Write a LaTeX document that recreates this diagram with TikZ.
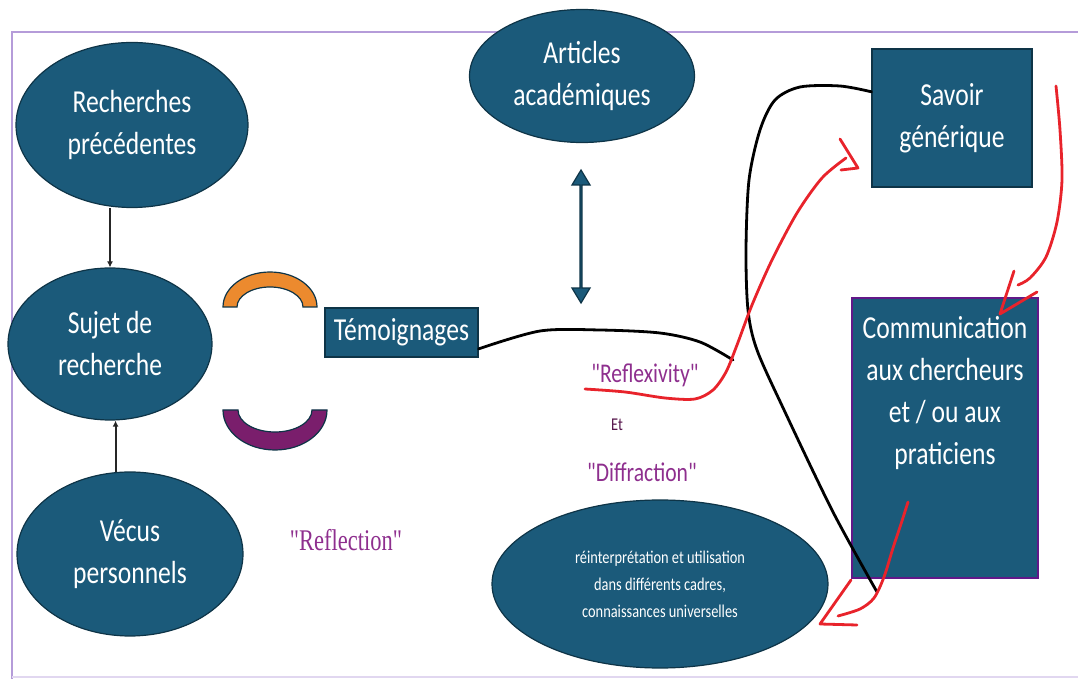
\documentclass[tikz,border=0pt]{standalone}
\usepackage{fontspec}
\setmainfont{Carlito}[FakeStretch=0.8]
\newfontfamily\motfont{Carlito}[FakeStretch=0.8]
\newfontfamily\reflfont{Liberation Serif}[FakeStretch=0.75]
\usetikzlibrary{positioning,shapes.geometric,shapes.arrows,arrows.meta}
\definecolor{bleu}{HTML}{1B5A7A}
\definecolor{bord}{HTML}{0E3447}
\definecolor{cadre}{HTML}{B59CD9}
\definecolor{mauve}{HTML}{8E2F8E}
\definecolor{rouge}{HTML}{E8232B}
\definecolor{arcorange}{HTML}{EC8A2E}
\definecolor{arcviolet}{HTML}{7A1E6C}
\begin{document}
\begin{tikzpicture}[x=0.5pt,y=-0.5pt,
    bulle/.style={ellipse,draw=bord,line width=0.6pt,fill=bleu,text=white,align=center,inner sep=0pt,font=\fontsize{16}{21}\selectfont},
    boite/.style={rectangle,draw=bord,line width=0.6pt,fill=bleu,text=white,align=center,inner sep=0pt,font=\fontsize{16}{21}\selectfont},
    lien/.style={line width=1pt,black!85,-{Latex[length=3pt,width=3pt]}},
    trait/.style={line width=1.4pt,black,line cap=round},
    main/.style={rouge,line width=1.4pt,line cap=round,line join=round},
    mot/.style={text=mauve,font=\motfont\fontsize{13.5}{15}\selectfont}]
    \useasboundingbox (0,0) rectangle (1078,679);
    \draw[cadre,line width=0.8pt] (1078,32) -- (12,32) -- (12,679);
    \draw[cadre!40,line width=0.8pt] (12,677) -- (1078,677);

    \node[bulle,minimum width=116pt,minimum height=82.5pt] (rech) at (132,125) {Recherches\\précédentes};
    \node[bulle,minimum width=102pt,minimum height=76pt] (suj) at (110,344) {Sujet de\\recherche};
    \node[bulle,minimum width=113pt,minimum height=82pt] (vec) at (130,554) {Vécus\\personnels};
    \node[bulle,minimum width=112.5pt,minimum height=66.5pt] (art) at (582,76) {Articles\\académiques};
    \node[bulle,minimum width=168pt,minimum height=84pt,font=\fontsize{9}{13.5}\selectfont] (reint) at (660,584) {réinterprétation et utilisation\\dans différents cadres,\\connaissances universelles};
    \node[boite,minimum width=76.5pt,minimum height=24.5pt] (tem) at (401.5,332.5) {Témoignages};
    \node[boite,minimum width=80pt,minimum height=69pt] (sav) at (952,118) {Savoir\\générique};
    \node[boite,draw=arcviolet!80!blue,line width=1pt,minimum width=93pt,minimum height=140pt] (com) at (945,438) {};
    \node[text=white,align=center,font=\fontsize{16}{21}\selectfont,below=6pt of com.north] (comtxt) {Communication\\aux chercheurs\\et / ou aux\\praticiens};
    \node[double arrow,draw=bord,line width=0.6pt,fill=bleu,rotate=90,minimum height=66.5pt,minimum width=9pt,inner sep=0pt,double arrow head extend=2.5pt,double arrow tip angle=62] (dbl) at (581,236.5) {};

    \draw[lien] (rech.south -| suj.north) -- (suj.north);
    \draw[lien] (vec.100) -- (suj.south -| vec.100);

    \draw[bord,line width=0.6pt,fill=arcorange] (223,307) arc[start angle=180,end angle=360,x radius=47,y radius=35] -- (303,307) arc[start angle=360,end angle=180,x radius=33,y radius=20] -- cycle;
    \draw[bord,line width=0.6pt,fill=arcviolet] (223,410) arc[start angle=180,end angle=0,x radius=52,y radius=40] -- (312,410) arc[start angle=0,end angle=180,x radius=37,y radius=22] -- cycle;

    \node[text=mauve,font=\reflfont\fontsize{15}{17}\selectfont] (refl) at (346,540) {"Reflection"};
    \node[mot] (rflx) at (645,375) {"Reflexivity"};
    \node[text=arcviolet!70!black,font=\motfont\fontsize{9}{10}\selectfont] (et) at (617,425) {Et};
    \node[mot] (diff) at (642,472) {"Diffraction"};

    \coordinate (pli) at (733,360);
    \coordinate (fin) at (877,592);
    \draw[trait] plot[smooth] coordinates {(tem.-12) (540,331) (600,330) (660,333) (700,342) (pli)};
    \draw[trait] plot[smooth] coordinates {(sav.162) (840,86) (800,87) (775,100) (760,130) (749,180) (746,250) (748,310) (757,350) (785,412) (833,512) (fin)};

    \draw[main] plot[smooth] coordinates {(585,389) (625,392) (665,398) (695,399) (713,390) (726,372) (737,345) (752,305) (772,260) (797,213) (822,178) (846,158)};
    \draw[main] (840,139) -- (858,168) -- (841,170);
    \draw[main] plot[smooth] coordinates {(1056,86) (1060,130) (1062,180) (1057,222) (1046,257) (1030,278) (1018,285)};
    \draw[main] (1014,271) -- (1000,314) -- (1037,292);
    \draw[main] plot[smooth] coordinates {(908,502) (901,524) (893,548) (884,577) (874,598) (860,609) (838,616)};
    \draw[main] (851,580) -- (820,624) -- (857,625);
\end{tikzpicture}
\end{document}
